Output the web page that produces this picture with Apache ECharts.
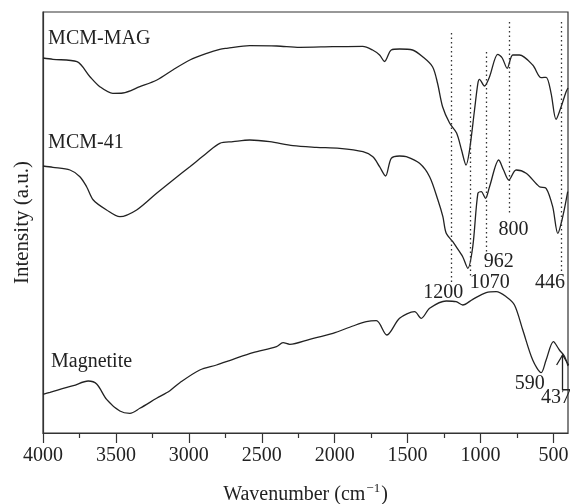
<!DOCTYPE html>
<html>
<head>
<meta charset="utf-8">
<script src="https://cdn.jsdelivr.net/npm/echarts@6/dist/echarts.min.js"></script>
<style>
  html, body { margin: 0; padding: 0; background: #fff; }
  #chart { width: 570px; height: 504px; }
</style>
</head>
<body>
<div id="chart"></div>
<script>
// FTIR spectra: wavenumber (cm-1) vs. intensity (arbitrary units, offset per sample)
const wavenumberTicks = [4000, 3500, 3000, 2500, 2000, 1500, 1000, 500];
const minorTicks = [3750, 3250, 2750, 2250, 1750, 1250, 750];

const mcmMag = [
  [4000, 375], [3932, 373.7], [3767, 371.3], [3678, 356.3], [3610, 346.3], [3521, 339.7],
  [3452, 340], [3336, 346.3], [3219, 353], [3110, 363], [2993, 373], [2877, 379.7],
  [2788, 383.7], [2740, 384.7], [2582, 387.3], [2397, 387], [2240, 385.7], [2014, 386.3],
  [1808, 386.7], [1740, 383], [1692, 378], [1658, 371.5], [1612, 383], [1555, 384],
  [1466, 383], [1397, 376.3], [1329, 366.3], [1295, 350], [1260, 326.3], [1212, 310],
  [1164, 300], [1130, 283], [1099, 268], [1075, 283], [1041, 323], [1018, 349.7],
  [1007, 353.7], [973, 347], [938, 356.3], [882, 378.7], [851, 375], [817, 364.7],
  [779, 378], [733, 378], [642, 368], [584, 355.3], [550, 355.7], [516, 339.7],
  [482, 313.7], [447, 326.3], [413, 341.3], [400, 345]
];

const mcm41 = [
  [4000, 267], [3932, 265.7], [3815, 263], [3747, 256.3], [3701, 246.3], [3655, 233],
  [3564, 223], [3473, 216.3], [3358, 223], [3221, 239.7], [3108, 253], [2993, 266.3],
  [2879, 279.7], [2788, 289.7], [2697, 291.3], [2582, 293], [2445, 291.3], [2286, 287.3],
  [2125, 285.7], [1966, 284.7], [1806, 281.3], [1738, 276.3], [1692, 266.3], [1651, 257],
  [1612, 274.7], [1555, 277], [1509, 276.3], [1418, 269.7], [1349, 256.3], [1292, 233],
  [1258, 216.3], [1235, 199.7], [1190, 191.3], [1167, 186.3], [1122, 176.3], [1087, 164.7],
  [1053, 186.3], [1018, 239.7], [995, 241.3], [966, 234.7], [938, 246.3], [875, 273],
  [842, 263], [806, 253], [756, 263], [687, 259.7], [596, 246.3], [550, 244.7],
  [505, 226.3], [470, 199.7], [436, 216.3], [402, 241.3]
];

const magnetite = [
  [4000, 38.7], [3952, 40.7], [3884, 43.7], [3792, 47.3], [3690, 52], [3632, 49],
  [3564, 33.7], [3473, 22], [3404, 19.7], [3336, 24.7], [3221, 34.7], [3130, 42.3],
  [3062, 50.3], [2925, 63], [2810, 68], [2697, 73.7], [2560, 80.3], [2399, 86.3],
  [2354, 90.3], [2308, 88.7], [2171, 93.7], [2012, 99.7], [1875, 107], [1783, 111.3],
  [1714, 112.3], [1642, 98], [1555, 114.7], [1452, 121.3], [1406, 114.7], [1349, 124.7],
  [1235, 132], [1167, 131.3], [1122, 128], [1053, 133.7], [961, 140.3], [892, 141.3],
  [824, 136.3], [767, 128], [710, 103], [642, 73], [584, 60.3], [550, 73],
  [500, 91.3], [459, 83], [425, 77], [400, 67]
];

// Silica band positions marked with dotted guides, and their extent in intensity units
const silicaBands = [1200, 1070, 962, 800, 446];
const bandTop = [400, 348, 381, 411, 411];
const bandBottom = [148, 155, 180, 218, 160];

// Magnetite Fe–O bands
const magnetiteBands = [590, 437];

const FONT = '"Liberation Serif", "DejaVu Serif", serif';
const INK = '#222';

const chart = echarts.init(document.getElementById('chart'), null, { renderer: 'canvas' });

const lineSeries = (name, data) => ({
  name, type: 'line', data,
  xAxisIndex: 0, yAxisIndex: 0,
  showSymbol: false, smooth: 0.3,
  lineStyle: { color: INK, width: 1.3 },
  silent: true, animation: false
});

const guideLines = silicaBands.map((w, i) => [
  { coord: [w, bandTop[i]] },
  { coord: [w, bandBottom[i]] }
]);

// shaft of the pointer to the 437 band
const arrowFrom = 43, arrowTo = 78;
const arrowLine = [[
  { coord: [magnetiteBands[1], arrowFrom] },
  { coord: [magnetiteBands[1], arrowTo] }
]];

const option = {
  animation: false,
  backgroundColor: '#fff',
  grid: {
    left: 43, right: 2, top: 12, bottom: 71,
    outerBoundsMode: 'none', containLabel: false,
    show: true, borderColor: '#333', borderWidth: 1.2, backgroundColor: 'transparent'
  },
  xAxis: [
    {
      type: 'value', inverse: true, min: 400, max: 4000,
      axisLine: { show: true, lineStyle: { color: '#333', width: 1.2 } },
      axisTick: { show: true, inside: false, length: 10, customValues: wavenumberTicks, lineStyle: { color: '#333', width: 1.2 } },
      axisLabel: {
        show: true, customValues: wavenumberTicks, margin: 13, color: INK,
        fontFamily: FONT, fontSize: 20, formatter: v => String(v)
      },
      splitLine: { show: false },
      name: '{a|Wavenumber (cm}{s|−1}{a|)}',
      nameLocation: 'middle', nameGap: 49,
      nameTextStyle: {
        rich: {
          a: { fontFamily: FONT, fontSize: 20, color: INK },
          s: { fontFamily: FONT, fontSize: 13, color: INK, verticalAlign: 'bottom', padding: [0, 1, 12, 1] }
        }
      }
    },
    {
      type: 'value', inverse: true, min: 400, max: 4000, position: 'bottom',
      axisLine: { show: false },
      axisTick: { show: true, inside: false, length: 5, customValues: minorTicks, lineStyle: { color: '#333', width: 1.2 } },
      axisLabel: { show: false },
      splitLine: { show: false }
    }
  ],
  yAxis: {
    type: 'value', min: 0, max: 421,
    axisLine: { show: true, lineStyle: { color: '#333', width: 1.2 } },
    axisTick: { show: false },
    axisLabel: { show: false },
    splitLine: { show: false },
    name: 'Intensity (a.u.)',
    nameLocation: 'middle', nameGap: 10,
    nameTextStyle: { fontFamily: FONT, fontSize: 21, color: INK }
  },
  series: [
    lineSeries('MCM-MAG', mcmMag),
    Object.assign(lineSeries('MCM-41', mcm41), {
      markLine: {
        silent: true, symbol: ['none', 'none'], animation: false,
        label: { show: false },
        lineStyle: { type: [1.5, 3], color: '#333', width: 1.3 },
        data: guideLines
      }
    }),
    Object.assign(lineSeries('Magnetite', magnetite), {
      markLine: {
        silent: true, animation: false,
        symbol: ['none', 'none'],
        label: { show: false },
        lineStyle: { type: 'solid', color: INK, width: 1.3 },
        data: arrowLine
      }
    })
  ]
};

chart.setOption(option);

// Sample names and band labels, anchored in data space
const toPx = (w, v) => chart.convertToPixel({ xAxisIndex: 0, yAxisIndex: 0 }, [w, v]);
const textAt = (text, w, v, align) => {
  const p = toPx(w, v);
  return {
    type: 'text', x: p[0], y: p[1], silent: true,
    style: { text, font: '20px ' + FONT, fill: INK, textAlign: align || 'center', textVerticalAlign: 'middle' }
  };
};

const sampleLabels = [
  ['MCM-MAG', 3965, 394],
  ['MCM-41', 3965, 290],
  ['Magnetite', 3945, 71]
];
const bandLabelPos = [
  [silicaBands[0], 1256, 140],
  [silicaBands[1], 937, 150],
  [silicaBands[2], 875, 171],
  [silicaBands[3], 774, 203],
  [silicaBands[4], 524, 150],
  [magnetiteBands[0], 662, 49],
  [magnetiteBands[1], 483, 35]
];

// open arrow head at the top of the 437 pointer
const tip = toPx(magnetiteBands[1], arrowTo);
const arrowHead = {
  type: 'polyline', silent: true,
  shape: { points: [[tip[0] - 6, tip[1] + 10], [tip[0], tip[1]], [tip[0] + 6, tip[1] + 10]] },
  style: { stroke: INK, lineWidth: 1.3, fill: null }
};

chart.setOption({
  graphic: [
    ...sampleLabels.map(([t, w, v]) => textAt(t, w, v, 'left')),
    ...bandLabelPos.map(([b, w, v]) => textAt(String(b), w, v, 'center')),
    arrowHead
  ]
});
</script>
</body>
</html>
